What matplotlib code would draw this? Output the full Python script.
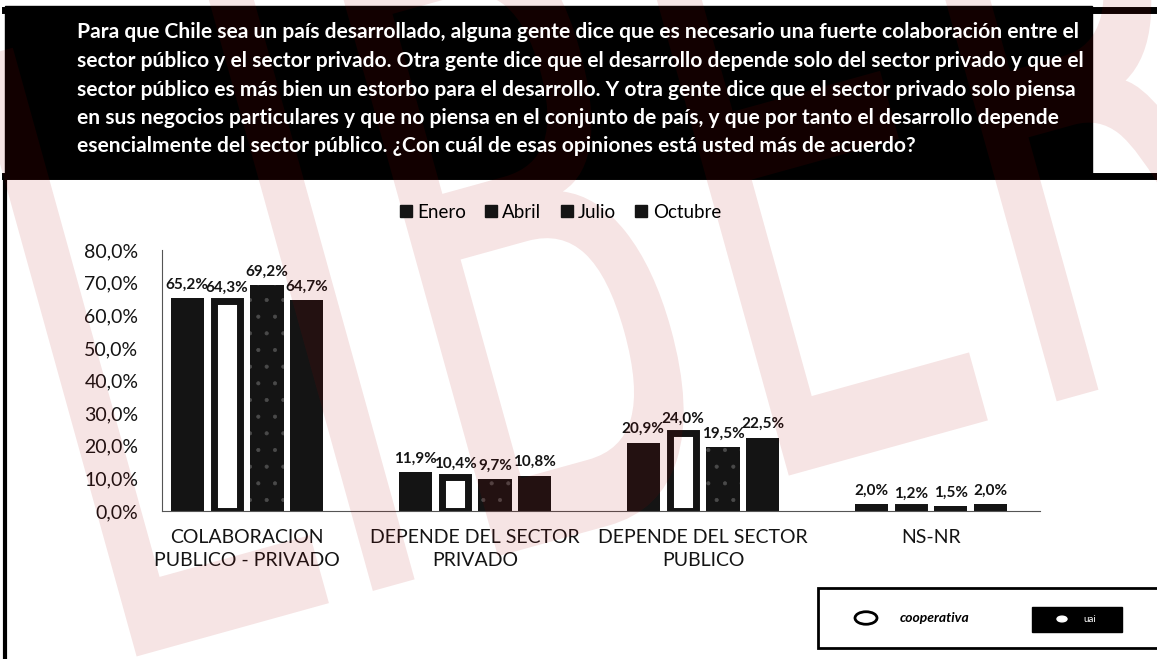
import numpy as np
import matplotlib
matplotlib.use('Agg')
import matplotlib.pyplot as plt
from matplotlib.lines import Line2D
from matplotlib.patches import Rectangle, PathPatch, Circle
from matplotlib.textpath import TextPath
from matplotlib.font_manager import FontProperties
from matplotlib.transforms import Affine2D

# Data
categories = ['COLABORACION\nPUBLICO - PRIVADO', 'DEPENDE DEL SECTOR\nPRIVADO',
              'DEPENDE DEL SECTOR\nPUBLICO', 'NS-NR']
months = ['Enero', 'Abril', 'Julio', 'Octubre']
enero = [65.2, 11.9, 20.9, 2.0]
abril = [64.3, 10.4, 24.0, 1.2]
julio = [69.2, 9.7, 19.5, 1.5]
octubre = [64.7, 10.8, 22.5, 2.0]
yticks = [0, 10, 20, 30, 40, 50, 60, 70, 80]

question = [
    "Para que Chile sea un país desarrollado, alguna gente dice que es necesario una fuerte colaboración entre el",
    "sector público y el sector privado. Otra gente dice que el desarrollo depende solo del sector privado y que el",
    "sector público es más bien un estorbo para el desarrollo. Y otra gente dice que el sector privado solo piensa",
    "en sus negocios particulares y que no piensa en el conjunto de país, y que por tanto el desarrollo depende",
    "esencialmente del sector público. ¿Con cuál de esas opiniones está usted más de acuerdo?",
]

plt.rcParams['font.family'] = ['Lato', 'DejaVu Sans']
plt.rcParams['hatch.linewidth'] = 0.5

W, H = 1157, 659
fig = plt.figure(figsize=(W / 100, H / 100), dpi=100)
fig.patch.set_facecolor('white')

def fx(px):
    return px / W

def fy(py):
    return 1 - py / H

ink = '#141414'

# header block
fig.patches.append(Rectangle((fx(5), fy(176)), fx(1087), 170 / H,
                             transform=fig.transFigure, color='black', zorder=0))
fig.add_artist(Line2D([fx(5), 1], [fy(10), fy(10)], color='black', lw=5))
fig.add_artist(Line2D([fx(5), 1], [fy(176), fy(176)], color='black', lw=5))
fig.add_artist(Line2D([fx(5), fx(5)], [fy(176), 0], color='black', lw=3))

line_y = [32, 61, 90, 118, 146]
for txt, yy in zip(question, line_y):
    fig.text(fx(77), fy(yy), txt, color='white', fontsize=15.1,
             fontweight='bold', ha='left', va='center')

# chart
ax = fig.add_axes([fx(162), fy(511), fx(878), 261 / H])
x = np.arange(len(categories))
pitch = 0.175
w = 0.145

ax.bar(x - 1.5 * pitch, enero, w, color=ink, zorder=2)
ax.bar(x - 0.5 * pitch, abril, w * 0.8, facecolor='white', edgecolor=ink,
       linewidth=5, zorder=2)
ax.bar(x + 0.5 * pitch, julio, w, facecolor=ink, edgecolor='#4a4a4a',
       linewidth=0, hatch='.', zorder=2)
ax.bar(x + 1.5 * pitch, octubre, w, color=ink, zorder=2)

for k, series in enumerate([enero, abril, julio, octubre]):
    for i, v in enumerate(series):
        ax.text(x[i] + (k - 1.5) * pitch, v + 2.0, f"{v:.1f}%".replace('.', ','),
                ha='center', va='bottom', fontsize=11, fontweight='bold',
                color=ink)

ax.set_xlim(-0.373, 3.478)
ax.set_ylim(0, 80)
ax.set_yticks(yticks)
ax.set_yticklabels([f"{t:.1f}%".replace('.', ',') for t in yticks], fontsize=14)
ax.set_xticks(x)
ax.set_xticklabels(categories, fontsize=14, linespacing=1.45)
ax.tick_params(axis='y', length=0, pad=17, labelcolor=ink)
ax.tick_params(axis='x', length=0, pad=13, labelcolor=ink)
for s in ['top', 'right']:
    ax.spines[s].set_visible(False)
ax.spines['left'].set_color('#555555')
ax.spines['left'].set_linewidth(0.8)
ax.spines['bottom'].set_color('#555555')
ax.spines['bottom'].set_linewidth(0.8)
ax.patch.set_alpha(0)

handles = [Line2D([], [], marker='s', color=ink, linestyle='', markersize=8.5)
           for _ in months]
fig.legend(handles, months, loc='center', bbox_to_anchor=(fx(560), fy(212)),
           ncol=4, frameon=False, fontsize=13.5, handlelength=0.7,
           handletextpad=0.25, columnspacing=1.0)

# logo strip bottom right
fig.patches.append(Rectangle((fx(818), fy(648)), fx(345), 60 / H,
                             transform=fig.transFigure, facecolor='white',
                             edgecolor='black', lw=2))
fig.patches.append(Circle((fx(866), fy(618)), fx(11), transform=fig.transFigure,
                          facecolor='white', edgecolor='black', lw=2))
fig.text(fx(935), fy(618), 'cooperativa', fontsize=10, fontweight='bold',
         style='italic', ha='center', va='center')
fig.patches.append(Rectangle((fx(1032), fy(632)), fx(90), 25 / H,
                             transform=fig.transFigure, color='black'))
fig.patches.append(Circle((fx(1062), fy(619)), fx(5), transform=fig.transFigure,
                          color='white'))
fig.text(fx(1090), fy(619), 'uai', fontsize=7, color='white',
         ha='center', va='center')

# red watermark (under the header text)
tp = TextPath((0, 0), 'LIBERO', size=1,
              prop=FontProperties(family='DejaVu Sans'))
mark = Affine2D().scale(440, 850).rotate_deg(15.5).translate(95, H - 668)
fig.patches.append(PathPatch(tp, transform=mark, facecolor=(0.67, 0, 0),
                             edgecolor='none', alpha=0.106, zorder=2.5))

fig.savefig('out.png', dpi=100)
